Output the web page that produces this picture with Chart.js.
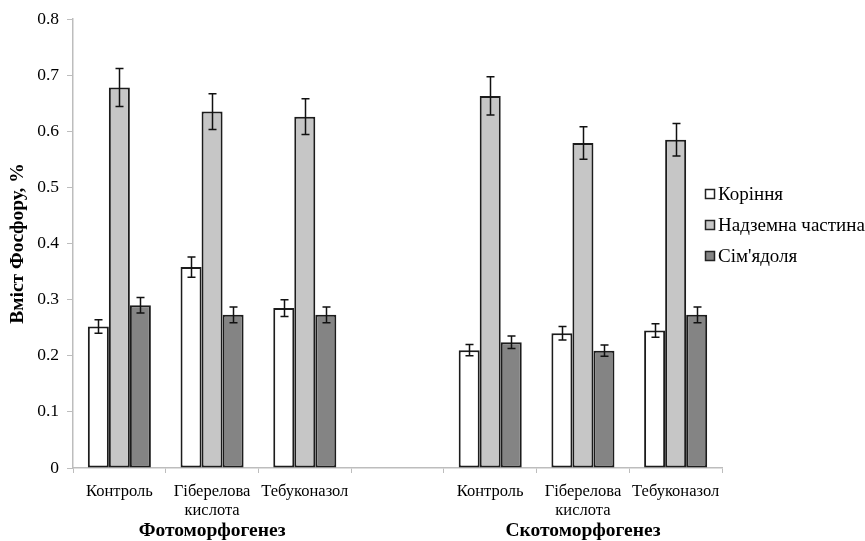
<!DOCTYPE html>
<html>
<head>
<meta charset="utf-8">
<script src="https://cdn.jsdelivr.net/npm/chart.js@4/dist/chart.umd.min.js"></script>
<style>
  html, body { margin: 0; padding: 0; background: #ffffff; }
  #wrap { width: 865px; height: 541px; }
</style>
</head>
<body>
<div id="wrap"><canvas id="chart" width="865" height="541"></canvas></div>
<script>
// Categories (the empty slot separates the two morphogenesis groups)
const categories = ['Контроль', ['Гіберелова', 'кислота'], 'Тебуконазол', '',
                    'Контроль', ['Гіберелова', 'кислота'], 'Тебуконазол'];
const groupNames = ['Фотоморфогенез', 'Скотоморфогенез'];
const groupCenters = [1, 5];   // category index under which each group name is centred
const seriesNames = ['Коріння', 'Надземна частина', "Сім'ядоля"];

// Phosphorus content, %
const roots         = [0.252, 0.358, 0.285, null, 0.210, 0.240, 0.245];
const rootsErr      = [0.012, 0.018, 0.015, null, 0.010, 0.012, 0.012];
const aerial        = [0.678, 0.635, 0.626, null, 0.663, 0.579, 0.585];
const aerialErr     = [0.034, 0.032, 0.032, null, 0.034, 0.029, 0.029];
const cotyledons    = [0.290, 0.273, 0.273, null, 0.224, 0.209, 0.273];
const cotyledonsErr = [0.014, 0.014, 0.014, null, 0.011, 0.010, 0.014];

const yTicks = [0, 0.1, 0.2, 0.3, 0.4, 0.5, 0.6, 0.7, 0.8];

const FONT = '"Liberation Serif", "Times New Roman", serif';
const AXIS_GREY = '#bdbdbd';

// Vertical error bars with caps
const errorBars = {
  id: 'errorBars',
  afterDatasetsDraw(chart) {
    const ctx = chart.ctx;
    const y = chart.scales.y;
    ctx.save();
    ctx.strokeStyle = '#111';
    ctx.lineWidth = 1.5;
    chart.data.datasets.forEach((ds, di) => {
      const meta = chart.getDatasetMeta(di);
      meta.data.forEach((bar, i) => {
        const v = ds.data[i], e = ds.errors[i];
        if (v == null || e == null) return;
        const x = Math.round(bar.x) + 0.5;
        const top = y.getPixelForValue(v + e);
        const bot = y.getPixelForValue(v - e);
        ctx.beginPath();
        ctx.moveTo(x, top); ctx.lineTo(x, bot);
        ctx.moveTo(x - 4, top); ctx.lineTo(x + 4, top);
        ctx.moveTo(x - 4, bot); ctx.lineTo(x + 4, bot);
        ctx.stroke();
      });
    });
    ctx.restore();
  }
};

// Group names under the category labels
const groupLabels = {
  id: 'groupLabels',
  afterDraw(chart) {
    const ctx = chart.ctx;
    const x = chart.scales.x;
    ctx.save();
    ctx.fillStyle = '#000';
    ctx.font = 'bold 19.5px ' + FONT;
    ctx.textAlign = 'center';
    ctx.textBaseline = 'middle';
    groupNames.forEach((name, g) => {
      ctx.fillText(name, x.getPixelForValue(groupCenters[g]), 531);
    });
    ctx.restore();
  }
};

// Legend at the right, partly over the plot
const sideLegend = {
  id: 'sideLegend',
  afterDraw(chart) {
    const ctx = chart.ctx;
    const x0 = 705, y0 = 194, step = 31;
    ctx.save();
    ctx.font = '19px ' + FONT;
    ctx.textBaseline = 'middle';
    ctx.textAlign = 'left';
    chart.data.datasets.forEach((ds, i) => {
      const cy = y0 + i * step;
      ctx.fillStyle = ds.backgroundColor;
      ctx.fillRect(x0, cy - 5, 10, 10);
      ctx.strokeStyle = '#222';
      ctx.lineWidth = 1.5;
      ctx.strokeRect(x0 + 0.5, cy - 4.5, 9, 9);
      ctx.fillStyle = '#000';
      ctx.fillText(ds.label, x0 + 13, cy + 1);
    });
    ctx.restore();
  }
};

const barStyle = { borderColor: '#1c1c1c', borderWidth: 2, borderSkipped: false,
                   categoryPercentage: 0.68, barPercentage: 1.0 };

new Chart(document.getElementById('chart'), {
  type: 'bar',
  data: {
    labels: categories,
    datasets: [
      Object.assign({ label: seriesNames[0], data: roots, errors: rootsErr, backgroundColor: '#ffffff' }, barStyle),
      Object.assign({ label: seriesNames[1], data: aerial, errors: aerialErr, backgroundColor: '#c6c6c6' }, barStyle),
      Object.assign({ label: seriesNames[2], data: cotyledons, errors: cotyledonsErr, backgroundColor: '#848484' }, barStyle)
    ]
  },
  options: {
    responsive: false,
    animation: false,
    devicePixelRatio: 1,
    layout: { padding: { top: 19, right: 143, left: 0, bottom: 0 } },
    plugins: { legend: { display: false }, tooltip: { enabled: false } },
    scales: {
      x: {
        grid: { offset: true, drawOnChartArea: false, tickLength: 5, color: AXIS_GREY },
        border: { color: AXIS_GREY, width: 1.5 },
        ticks: { color: '#000', font: { family: FONT, size: 16.5, lineHeight: 1.15 },
                 padding: 9, maxRotation: 0, autoSkip: false },
        afterFit(scale) { scale.height = 73; }
      },
      y: {
        min: 0, max: 0.8,
        afterBuildTicks(scale) { scale.ticks = yTicks.map(v => ({ value: v })); },
        grid: { drawOnChartArea: false, tickLength: 6, color: AXIS_GREY },
        border: { color: AXIS_GREY, width: 1.5 },
        ticks: { color: '#000', font: { family: FONT, size: 17.5 }, padding: 8,
                 callback: v => (v === 0 ? '0' : v.toFixed(1)) },
        title: { display: true, text: 'Вміст Фосфору, %', color: '#000',
                 font: { family: FONT, size: 19.5, weight: 'bold' }, padding: { top: 6, bottom: 0 } },
        afterFit(scale) { scale.width = 73; }
      }
    }
  },
  plugins: [errorBars, groupLabels, sideLegend]
});
</script>
</body>
</html>
